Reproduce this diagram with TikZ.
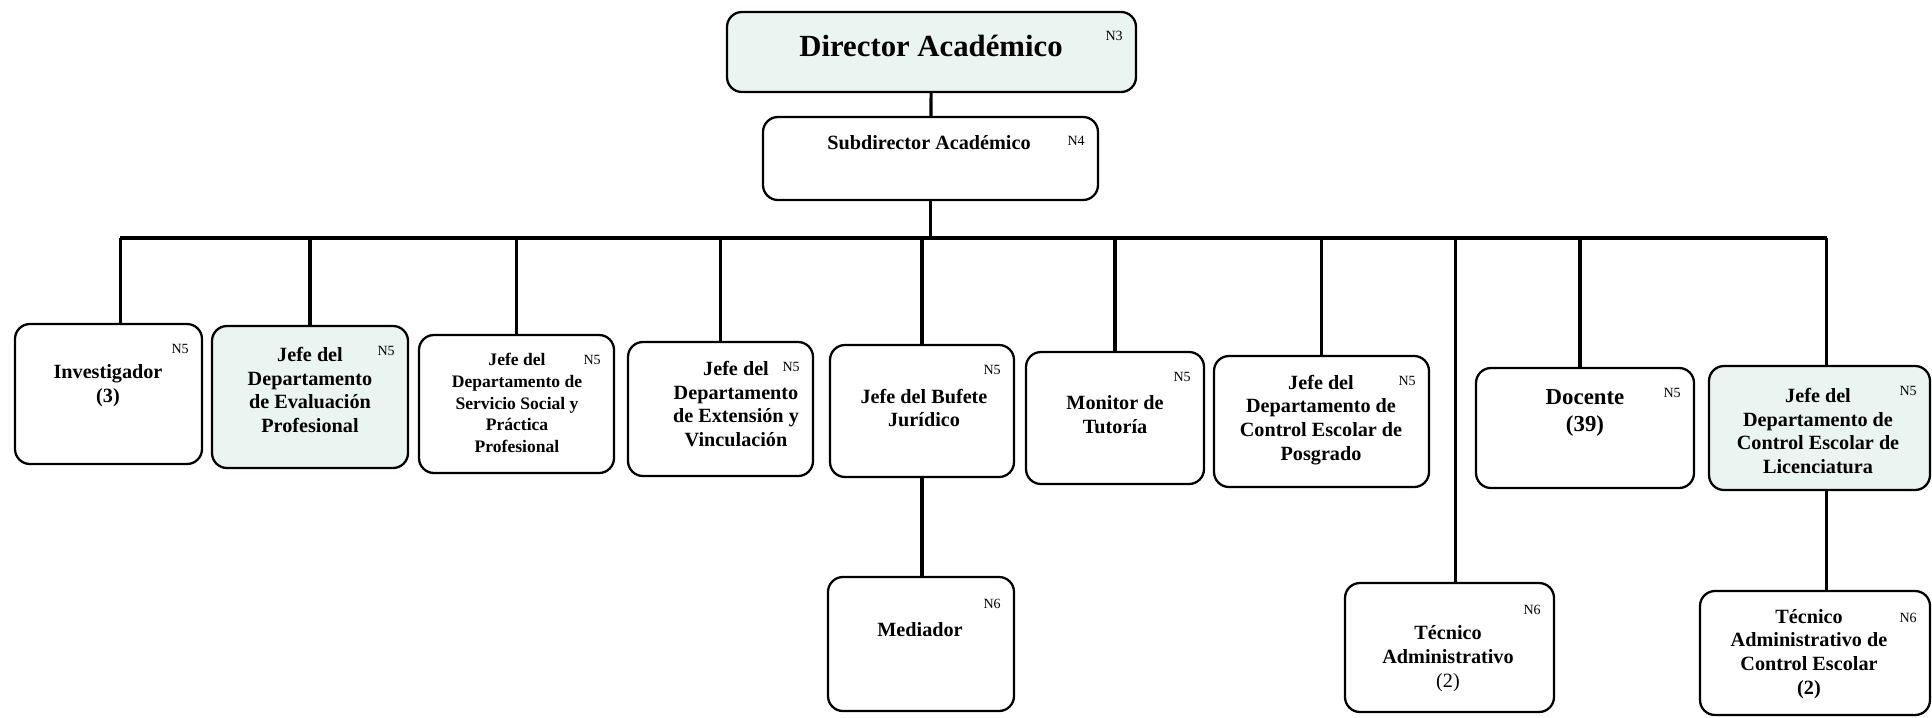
\documentclass[tikz,border=0pt]{standalone}
\usepackage{fontspec}
\setmainfont{Liberation Serif}
\usetikzlibrary{fit}
\definecolor{palemint}{HTML}{EAF4F0}
\tikzset{
  box/.style={draw, line width=1.3pt, rounded corners=0.3cm, inner sep=0pt},
  link/.style={line width=1.8pt},
  txt/.style={align=center, font=\bfseries\fontsize{11.5}{13.6}\selectfont},
  lvl/.style={font=\fontsize{8}{9}\selectfont, inner sep=0pt},
}
\begin{document}
\begin{tikzpicture}[x=0.02cm, y=-0.02cm]
        \useasboundingbox (0,0) rectangle (1932,717);                        %
        \node [box, fill=palemint, fit={(727,12) (1136,92)}]   (dir) {};     %N3
        \node [box, fit={(763,117) (1098,200)}]                (sub) {};     %N4
        \node [box, fit={(15,324) (202,464)}]                  (inv) {};     %N5
        \node [box, fill=palemint, fit={(212,326) (408,468)}]  (eva) {};     %N5
        \node [box, fit={(419,335) (614,473)}]                 (ser) {};     %N5
        \node [box, fit={(628,342) (813,476)}]                 (ext) {};     %N5
        \node [box, fit={(830,345) (1014,477)}]                (buf) {};     %N5
        \node [box, fit={(1026,352) (1204,484)}]               (mon) {};     %N5
        \node [box, fit={(1214,356) (1429,487)}]               (pos) {};     %N5
        \node [box, fit={(1476,368) (1694,488)}]               (doc) {};     %N5
        \node [box, fill=palemint, fit={(1709,366) (1930,490)}] (lic) {};    %N5
        \node [box, fit={(828,577) (1014,711)}]                (med) {};     %N6
        \node [box, fit={(1345,583) (1554,712)}]               (tec) {};     %N6
        \node [box, fit={(1700,591) (1930,715)}]               (tce) {};     %N6
        % textos
        \node [txt, font=\bfseries\fontsize{17.5}{20}\selectfont] (dirt) at (931,46) {Director Académico};
        \node [txt] (subt) at (929,143)  {Subdirector Académico};          %
        \node [txt] (invt) at (108,386)  {Investigador\\(3)};              %
        \node [txt] (evat) at (310,390)  {Jefe del\\Departamento\\de Evaluación\\Profesional};
        \node [txt, font=\bfseries\fontsize{10}{12.3}\selectfont] (sert) at (517,403) {Jefe del\\Departamento de\\Servicio Social y\\Práctica\\Profesional};
        \node [txt] (extt) at (736,404)  {Jefe del\\Departamento\\de Extensión y\\Vinculación};
        \node [txt] (buft) at (924,408)  {Jefe del Bufete\\Jurídico};      %
        \node [txt] (mont) at (1115,415) {Monitor de\\Tutoría};            %
        \node [txt] (post) at (1321,420) {Jefe del\\Departamento de\\Control Escolar de\\Posgrado};
        \node [txt, font=\bfseries\fontsize{13}{15.5}\selectfont] (doct) at (1585,413) {Docente\\(39)};
        \node [txt] (lict) at (1818,431) {Jefe del\\Departamento de\\Control Escolar de\\Licenciatura};
        \node [txt] (medt) at (920,630)  {Mediador};                       %
        \node [txt] (tect) at (1448,659) {Técnico\\Administrativo\\{\mdseries (2)}};
        \node [txt] (tcet) at (1809,654) {Técnico\\Administrativo de\\Control Escolar\\(2)};
        % niveles
        \node [lvl] (dirn) at ([xshift=-0.46cm, yshift=-0.5cm]dir.north east) {N3};
        \node [lvl] (subn) at ([xshift=-0.46cm, yshift=-0.5cm]sub.north east) {N4};
        \foreach \b in {inv,eva,ser,ext,buf,mon,pos,doc,lic}
          \node [lvl] (\b n) at ([xshift=-0.46cm, yshift=-0.52cm]\b.north east) {N5};
        \foreach \b in {med,tec,tce}
          \node [lvl] (\b n) at ([xshift=-0.46cm, yshift=-0.56cm]\b.north east) {N6};
        % lineas
        \coordinate (bus) at (0,238);                                      %
        \draw [link] (dir) -- (sub);                                       %
        \draw [link] (sub.south) -- (sub.south |- bus);                    %
        \draw [link] ([xshift=0.24cm]inv.north |- bus) -- ([xshift=0.14cm]lic.north |- bus);
        \draw [link] ([xshift=0.24cm]inv.north) -- ([xshift=0.24cm]inv.north |- bus);
        \foreach \b in {eva,ser,ext,buf,mon,pos}
          \draw [link] (\b.north) -- (\b.north |- bus);
        \draw [link] ([xshift=0.12cm]tec.north) -- ([xshift=0.12cm]tec.north |- bus);
        \draw [link] ([xshift=-0.1cm]doc.north) -- ([xshift=-0.1cm]doc.north |- bus);
        \draw [link] ([xshift=0.14cm]lic.north) -- ([xshift=0.14cm]lic.north |- bus);
        \draw [link] (buf.south) -- (buf.south |- med.north);             %
        \draw [link] ([xshift=0.14cm]lic.south) -- ([xshift=0.14cm]lic.south |- tce.north);
\end{tikzpicture}
\end{document}
